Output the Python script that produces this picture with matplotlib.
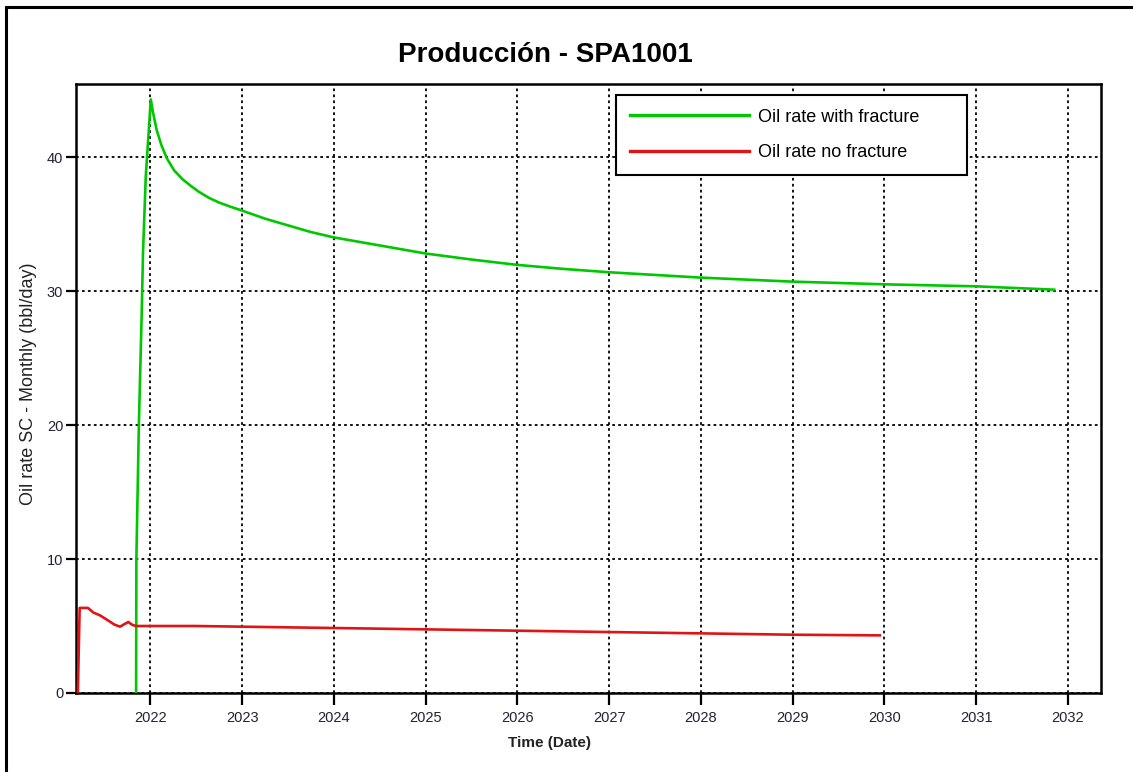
import matplotlib
matplotlib.use("Agg")
import matplotlib.pyplot as plt
from matplotlib.patches import Rectangle

plt.rcParams['font.family'] = ['Liberation Sans', 'DejaVu Sans']

# time as decimal years, rates in bbl/day
t_frac = [2021.845, 2021.848, 2021.875, 2021.907, 2021.92, 2021.95, 2022.005,
          2022.03, 2022.07, 2022.12, 2022.18, 2022.26, 2022.35, 2022.44, 2022.53,
          2022.64, 2022.75, 2022.87, 2023.0, 2023.25, 2023.5, 2023.75, 2024.0,
          2024.5, 2025.0, 2025.5, 2026.0, 2026.5, 2027.0, 2027.5, 2028.0,
          2028.5, 2029.0, 2030.0, 2031.0, 2031.85]
q_frac = [0, 10, 20, 28.6, 32.8, 38.5, 44.3,
          43.3, 42.0, 40.9, 39.9, 39.0, 38.35, 37.85, 37.4,
          36.95, 36.6, 36.3, 36.0, 35.4, 34.9, 34.4, 34.0,
          33.4, 32.8, 32.35, 31.95, 31.65, 31.4, 31.2, 31.0,
          30.85, 30.7, 30.5, 30.35, 30.1]

t_nofrac = [2021.21, 2021.22, 2021.23, 2021.32, 2021.38, 2021.45, 2021.52,
            2021.61, 2021.67, 2021.72, 2021.76, 2021.80, 2021.84, 2022.0,
            2022.5, 2023.0, 2023.5, 2024.0, 2025.0, 2026.0, 2027.0, 2028.0,
            2029.0, 2029.95]
q_nofrac = [0, 3.2, 6.35, 6.35, 6.0, 5.8, 5.5,
            5.1, 4.95, 5.15, 5.3, 5.1, 5.0, 5.0,
            5.0, 4.95, 4.9, 4.85, 4.75, 4.65, 4.55, 4.45,
            4.35, 4.3]

years = list(range(2022, 2033))
y_ticks = [0, 10, 20, 30, 40]

W, H = 1133, 772
fig = plt.figure(figsize=(W / 100, H / 100), dpi=100)
ax = fig.add_axes([76 / W, 1 - 693 / H, (1101 - 76) / W, (693 - 84) / H])

ax.plot(t_frac, q_frac, color='#00c800', lw=1.9, label='Oil rate with fracture', zorder=3)
ax.plot(t_nofrac, q_nofrac, color='#e01414', lw=1.9, label='Oil rate no fracture', zorder=3)

ax.set_xlim(2021.19, 2032.36)
ax.set_ylim(0, 45.45)
ax.set_xticks(years)
ax.set_xticklabels([str(y) for y in years])
ax.set_yticks(y_ticks)

ax.grid(True, color='black', linestyle=(0, (1.5, 1.8)), lw=1.3, zorder=1)
for s in ax.spines.values():
    s.set_linewidth(1.8)
ax.tick_params(axis='x', direction='out', length=8.6, width=1.6, pad=4,
               labelsize=10.5, labelcolor='#222233')
ax.tick_params(axis='y', direction='out', length=7.2, width=1.6, pad=2,
               labelsize=10.5, labelcolor='#222233')

leg = ax.legend(loc='upper left', bbox_to_anchor=(0.527, 0.851, 0.342, 0.131),
                mode='expand', borderaxespad=0, fontsize=13, handlelength=6.6,
                handletextpad=0.5, labelspacing=1.05, borderpad=0.75,
                fancybox=False, framealpha=1, edgecolor='black')
leg.get_frame().set_linewidth(1.5)
for line in leg.get_lines():
    line.set_linewidth(2.4)

fig.text(545 / W, 1 - 55 / H, 'Producción - SPA1001', ha='center', va='center',
         fontsize=20, fontweight='bold')
fig.text(550 / W, 1 - 743 / H, 'Time (Date)', ha='center', va='center',
         fontsize=11, fontweight='bold', color='#222222')
fig.text(29 / W, 1 - 384 / H, 'Oil rate SC - Monthly (bbl/day)', ha='center',
         va='center', rotation=90, fontsize=13, color='#222222')

# outer frame
fig.patches.append(Rectangle((6 / W, -0.05), 1.2, 1.05 - 7 / H, transform=fig.transFigure,
                             fill=False, edgecolor='black', lw=2.2))

fig.savefig('out.png', dpi=100)
